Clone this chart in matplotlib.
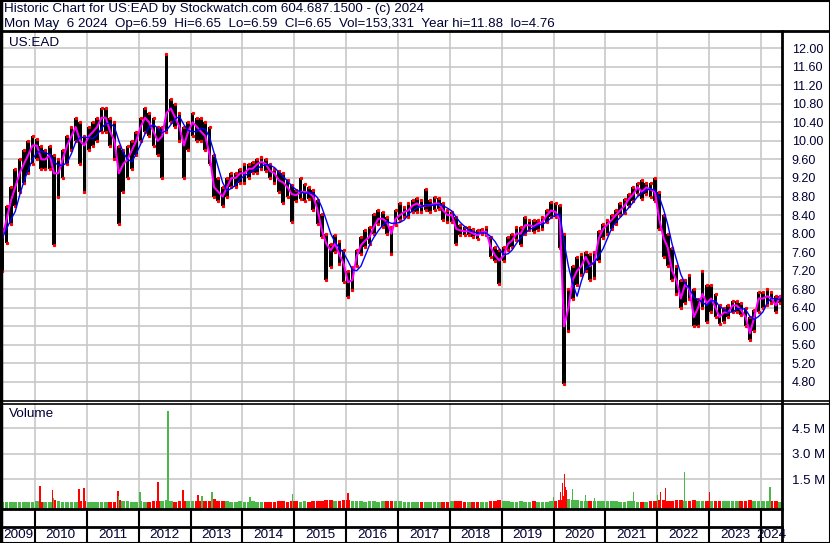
import numpy as np
import pandas as pd
import matplotlib
matplotlib.use('Agg')
import matplotlib.pyplot as plt
import matplotlib.dates as mdates
import matplotlib.transforms as mtransforms
from matplotlib.lines import Line2D

plt.rcParams['font.family'] = ['Liberation Sans', 'DejaVu Sans']

# monthly values, May 2009 .. May 2024
mon_close = [
    7.9, 8.3, 8.7, 9.0, 9.3, 9.5, 9.7, 9.9,                          # 2009 May-Dec
    9.9, 9.6, 9.6, 9.7, 9.3, 9.3, 9.6, 9.9, 10.1, 10.3, 10.0, 9.9,   # 2010
    10.1, 10.2, 10.3, 10.5, 10.5, 10.2, 10.0, 9.3, 9.5, 9.6, 9.8, 10.0,  # 2011
    10.3, 10.5, 10.4, 10.2, 10.0, 10.1, 10.6, 10.7, 10.5, 10.3, 9.9, 10.2,  # 2012
    10.4, 10.3, 10.2, 10.1, 9.7, 9.0, 8.9, 8.8, 9.0, 9.2, 9.2, 9.3,  # 2013
    9.3, 9.4, 9.4, 9.5, 9.55, 9.5, 9.35, 9.3, 9.15, 9.1, 9.0, 8.85,  # 2014
    8.83, 8.9, 8.9, 8.88, 8.8, 8.5, 8.07, 7.78, 7.64, 7.78, 7.55, 7.35,  # 2015
    6.95, 7.0, 7.5, 7.75, 7.85, 7.93, 8.15, 8.32, 8.32, 8.25, 8.0, 8.32,  # 2016
    8.4, 8.47, 8.5, 8.61, 8.65, 8.58, 8.61, 8.61, 8.65, 8.65, 8.5, 8.4,  # 2017
    8.4, 8.1, 8.07, 8.05, 8.05, 8.0, 7.96, 8.04, 8.04, 7.71, 7.53, 7.42,  # 2018
    7.53, 7.78, 7.85, 8.0, 8.0, 8.18, 8.18, 8.15, 8.22, 8.25, 8.4, 8.5,  # 2019
    8.47, 8.3, 6.0, 6.4, 7.0, 7.2, 7.3, 7.5, 7.3, 7.4, 7.9, 8.1,     # 2020
    8.2, 8.3, 8.4, 8.5, 8.6, 8.75, 8.85, 9.0, 8.9, 9.0, 8.95, 8.9,   # 2021
    8.3, 7.9, 7.7, 7.2, 7.0, 6.6, 6.9, 6.8, 6.2, 6.4, 6.7, 6.5,      # 2022
    6.6, 6.4, 6.2, 6.3, 6.3, 6.45, 6.45, 6.35, 6.2, 5.85, 6.2, 6.6,  # 2023
    6.6, 6.65, 6.6, 6.45, 6.65,                                      # 2024 Jan-May
]
mon_high = [
    8.1, 8.6, 9.0, 9.4, 9.6, 9.8, 10.0, 10.1,
    10.05, 9.9, 9.8, 9.9, 9.7, 9.6, 9.8, 10.1, 10.3, 10.5, 10.4, 10.1,
    10.3, 10.4, 10.5, 10.7, 10.7, 10.5, 10.4, 9.9, 9.8, 9.9, 10.0, 10.2,
    10.5, 10.7, 10.6, 10.5, 10.3, 10.3, 11.88, 10.9, 10.8, 10.6, 10.3, 10.4,
    10.6, 10.5, 10.5, 10.4, 10.3, 9.7, 9.2, 9.0, 9.2, 9.3, 9.3, 9.4,
    9.5, 9.5, 9.55, 9.6, 9.65, 9.6, 9.5, 9.4, 9.35, 9.3, 9.15, 9.05,
    8.95, 9.2, 9.08, 9.0, 8.95, 8.72, 8.43, 8.0, 7.78, 7.96, 7.85, 7.64,
    7.2, 7.28, 7.64, 7.93, 8.07, 8.15, 8.43, 8.5, 8.47, 8.36, 8.15, 8.5,
    8.65, 8.58, 8.65, 8.72, 8.76, 8.72, 8.97, 8.72, 8.79, 8.76, 8.65, 8.5,
    8.47, 8.36, 8.18, 8.14, 8.14, 8.11, 8.07, 8.11, 8.14, 7.93, 7.71, 7.64,
    7.71, 7.93, 8.0, 8.14, 8.14, 8.36, 8.29, 8.29, 8.29, 8.36, 8.5, 8.68,
    8.65, 8.62, 8.0, 6.8, 7.3, 7.5, 7.55, 7.6, 7.55, 7.6, 8.05, 8.2,
    8.3, 8.4, 8.5, 8.65, 8.75, 8.85, 9.0, 9.1, 9.15, 9.1, 9.1, 9.2,
    8.9, 8.4, 8.0, 7.7, 7.3, 7.0, 7.0, 7.1, 6.8, 6.6, 7.2, 6.9,
    6.9, 6.7, 6.45, 6.4, 6.45, 6.55, 6.55, 6.5, 6.4, 6.2, 6.35, 6.75,
    6.75, 6.8, 6.75, 6.65, 6.65,
]
mon_low = [
    7.2, 7.8, 8.2, 8.6, 8.9, 9.1, 9.3, 9.5,
    9.6, 9.4, 9.4, 9.4, 7.75, 8.8, 9.2, 9.5, 9.8, 10.0, 9.5, 8.9,
    9.8, 9.9, 10.0, 10.2, 10.2, 9.9, 9.6, 8.2, 8.9, 9.2, 9.4, 9.7,
    10.0, 10.2, 10.1, 9.9, 9.7, 9.2, 10.2, 10.4, 10.3, 10.0, 9.2, 9.8,
    10.1, 10.0, 10.0, 9.8, 9.5, 8.8, 8.7, 8.6, 8.8, 9.0, 9.0, 9.1,
    9.1, 9.2, 9.3, 9.3, 9.4, 9.35, 9.2, 9.1, 8.9, 8.65, 8.8, 8.25,
    8.7, 8.75, 8.7, 8.75, 8.5, 8.2, 7.93, 7.0, 7.28, 7.6, 7.35, 6.95,
    6.63, 6.78, 7.3, 7.57, 7.71, 7.78, 8.0, 8.2, 8.15, 8.0, 7.57, 8.18,
    8.29, 8.36, 8.36, 8.47, 8.47, 8.47, 8.5, 8.47, 8.5, 8.54, 8.29, 8.25,
    8.25, 7.78, 7.96, 7.96, 7.96, 7.93, 7.89, 8.0, 7.96, 7.5, 7.42, 6.92,
    7.42, 7.64, 7.71, 7.86, 7.75, 8.0, 8.07, 8.04, 8.07, 8.11, 8.25, 8.36,
    8.36, 7.7, 4.76, 5.9, 6.6, 6.9, 7.1, 7.2, 7.0, 7.05, 7.4, 7.9,
    8.0, 8.1, 8.2, 8.4, 8.45, 8.6, 8.7, 8.85, 8.75, 8.85, 8.8, 8.7,
    8.1, 7.5, 7.3, 7.0, 6.7, 6.4, 6.5, 6.6, 6.0, 6.0, 6.4, 6.1,
    6.3, 6.2, 6.05, 6.1, 6.2, 6.3, 6.3, 6.25, 6.0, 5.7, 5.9, 6.3,
    6.4, 6.45, 6.5, 6.3, 6.5,
]
mon_vol = [
    0.16, 0.14, 0.18, 0.16, 0.15, 0.17, 0.16, 0.18,
    0.20, 0.18, 0.16, 0.17, 0.26, 0.21, 0.18, 0.16, 0.17, 0.18, 0.22, 0.20,
    0.18, 0.19, 0.18, 0.17, 0.16, 0.18, 0.19, 0.28, 0.22, 0.20, 0.18, 0.17,
    0.21, 0.19, 0.18, 0.20, 0.24, 0.22, 0.26, 0.21, 0.19, 0.20, 0.23, 0.21,
    0.24, 0.22, 0.21, 0.20, 0.23, 0.31, 0.24, 0.22, 0.20, 0.19, 0.18, 0.20,
    0.19, 0.18, 0.20, 0.18, 0.17, 0.18, 0.19, 0.18, 0.20, 0.22, 0.19, 0.23,
    0.21, 0.19, 0.20, 0.19, 0.20, 0.22, 0.24, 0.28, 0.25, 0.22, 0.23, 0.27,
    0.26, 0.24, 0.22, 0.20, 0.19, 0.21, 0.20, 0.19, 0.20, 0.21, 0.23, 0.21,
    0.20, 0.19, 0.18, 0.19, 0.18, 0.18, 0.19, 0.18, 0.18, 0.19, 0.18, 0.19,
    0.21, 0.22, 0.20, 0.19, 0.18, 0.19, 0.18, 0.18, 0.19, 0.23, 0.22, 0.26,
    0.22, 0.20, 0.19, 0.19, 0.20, 0.19, 0.18, 0.20, 0.19, 0.18, 0.19, 0.20,
    0.24, 0.28, 0.51, 0.36, 0.30, 0.28, 0.24, 0.22, 0.23, 0.22, 0.24, 0.21,
    0.20, 0.21, 0.20, 0.19, 0.18, 0.20, 0.21, 0.19, 0.18, 0.19, 0.20, 0.22,
    0.28, 0.30, 0.24, 0.23, 0.26, 0.25, 0.23, 0.22, 0.25, 0.24, 0.22, 0.23,
    0.22, 0.21, 0.23, 0.20, 0.21, 0.20, 0.21, 0.23, 0.24, 0.27, 0.23, 0.22,
    0.21, 0.20, 0.23, 0.22, 0.19,
]

# single-day volume spikes (millions)
spike_dates = ['2010-02-05', '2010-05-06', '2010-05-10', '2010-11-07', '2010-12-12',
               '2011-08-08', '2011-08-12', '2012-01-10', '2012-05-16', '2012-05-22',
               '2012-07-26', '2012-11-08', '2013-02-22', '2013-03-22', '2013-06-01',
               '2014-02-23', '2014-12-22', '2016-01-14', '2020-01-01', '2020-02-19',
               '2020-03-05', '2020-03-19', '2020-03-26', '2020-04-02', '2020-05-14',
               '2020-08-13', '2020-10-16', '2021-07-17', '2022-01-01', '2022-01-22',
               '2022-02-26', '2022-07-10', '2023-01-01', '2024-03-04']
spike_vol = [1.09, 0.85, 0.40, 0.91, 0.97,
             0.80, 0.50, 0.74, 1.32, 0.80,
             5.50, 0.85, 0.56, 0.50, 0.74,
             0.45, 0.62, 0.70, 0.44, 0.74,
             1.26, 1.80, 1.03, 0.85, 0.91,
             0.56, 0.40, 0.74, 0.56, 0.74,
             0.97, 1.91, 0.74, 1.03]
spike_up = [0, 0, 1, 0, 0,
            0, 1, 1, 0, 0,
            1, 0, 0, 1, 1,
            1, 1, 0, 1, 0,
            0, 0, 0, 0, 1,
            1, 1, 1, 1, 0,
            0, 1, 0, 1]

price_ticks = np.arange(4.8, 12.01, 0.4)
vol_ticks = [1.5, 3.0, 4.5]
years = list(range(2009, 2025))

header1 = "Historic Chart for US:EAD by Stockwatch.com 604.687.1500 - (c) 2024"
header2 = ("Mon May  6 2024  Op=6.59  Hi=6.65  Lo=6.59  Cl=6.65  Vol=153,331"
           "  Year hi=11.88  lo=4.76")

W, H = 830, 543
GREEN = '#4cb84c'
RED = '#ff0000'
GRID = '#c8c8c8'
TXT = '#000033'
VFLOOR = -0.25


def fx(x):
    return x / W


def fy(y):
    return 1 - y / H


dates = pd.date_range('2009-05-01', '2024-05-01', freq='MS') + pd.Timedelta(days=14)
close = pd.Series(mon_close, index=dates)
high = np.array(mon_high)
low = np.array(mon_low)
ma_fast = close
ma_slow = close.rolling(4, min_periods=1).mean()

fig = plt.figure(figsize=(W / 100, H / 100), dpi=100)
fig.patch.set_facecolor('white')

ax = fig.add_axes([fx(2), fy(401), fx(782) - fx(2), fy(31) - fy(401)])
axv = fig.add_axes([fx(2), fy(509), fx(782) - fx(2), fy(403) - fy(509)])

x0 = pd.Timestamp('2009-05-14')
x1 = pd.Timestamp('2024-05-28')
year_starts = [pd.Timestamp(f'{y}-01-01') for y in years[1:]]

for a in (ax, axv):
    a.set_xlim(x0, x1)
    a.set_xticks([])
    for ys in year_starts:
        a.axvline(ys, color=GRID, lw=1.2, zorder=0)
    for s in a.spines.values():
        s.set_visible(False)

# price panel
ax.set_ylim(4.39, 12.37)
for p in price_ticks:
    ax.axhline(p, color=GRID, lw=1.2, zorder=0)
ax.bar(dates, high - low, bottom=low, width=26, color='black', zorder=2)
ax.plot(dates, high, ls='none', marker='s', ms=1.3, color=RED, zorder=3)
ax.plot(dates, low, ls='none', marker='s', ms=1.3, color=RED, zorder=3)
ax.plot(dates, ma_fast, color='#ff00ff', lw=1.5, zorder=4)
ax.plot(dates, ma_slow, color='#0000ff', lw=1.0, zorder=5)
ax.yaxis.tick_right()
ax.set_yticks(price_ticks)
ax.set_yticklabels([f'{p:.2f}' for p in price_ticks])
ax.tick_params(axis='y', length=0, pad=7, labelsize=9, labelcolor=TXT)
ax.text(0.009, 0.967, 'US:EAD', transform=ax.transAxes, fontsize=9.7,
        color=TXT, va='center', ha='left')

# volume panel
axv.set_ylim(VFLOOR, 5.97)
for v in vol_ticks:
    axv.axhline(v, color=GRID, lw=1.2, zorder=0)
vol_up = close.diff().fillna(0).values >= 0
axv.bar(dates, np.array(mon_vol) - VFLOOR, bottom=VFLOOR, width=26,
        color=[GREEN if u else RED for u in vol_up], zorder=2)
sd = pd.to_datetime(spike_dates)
axv.bar(sd, np.array(spike_vol) - VFLOOR, bottom=VFLOOR, width=9,
        color=[GREEN if u else RED for u in spike_up], zorder=3)
axv.yaxis.tick_right()
axv.set_yticks(vol_ticks)
axv.set_yticklabels([f'{v:.1f} M' for v in vol_ticks])
axv.tick_params(axis='y', length=0, pad=7, labelsize=9.5, labelcolor=TXT)
axv.text(0.009, 0.9, 'Volume', transform=axv.transAxes, fontsize=9.7,
         color=TXT, va='center', ha='left')

# header
fig.text(fx(4), fy(9), header1, fontsize=9.6, color=TXT, va='center', ha='left')
fig.text(fx(4), fy(24), header2, fontsize=9.6, color=TXT, va='center', ha='left')


# frame lines
def hline(y, xa, xb, lw=2.0):
    fig.add_artist(Line2D([fx(xa), fx(xb)], [fy(y), fy(y)], color='black', lw=lw))


def vline(x, ya, yb, lw=2.0):
    fig.add_artist(Line2D([fx(x), fx(x)], [fy(ya), fy(yb)], color='black', lw=lw))


hline(0.5, 0, 830, 1.5)
hline(31, 0, 830)
hline(400.5, 0, 830, 1.2)
hline(403.5, 0, 830, 1.2)
hline(509, 0, 782)
hline(527, 0, 782)
hline(542.5, 0, 830, 1.5)
vline(1, 0, 543, 2.5)
vline(829.5, 0, 543, 1.5)
vline(782, 31, 543)

# year strip below volume
blend = mtransforms.blended_transform_factory(axv.transData, fig.transFigure)
for ys in year_starts:
    d = mdates.date2num(ys)
    fig.add_artist(Line2D([d, d], [fy(509), fy(543)], color='black', lw=1.5,
                          transform=blend))
for y in years:
    a = max(pd.Timestamp(f'{y}-01-01'), x0)
    b = min(pd.Timestamp(f'{y + 1}-01-01'), x1)
    mid = a + (b - a) / 2
    fig.text(mdates.date2num(mid), fy(535), str(y), transform=blend, fontsize=9.7,
             color=TXT, ha='center', va='center')

fig.savefig('out.png', dpi=100)
